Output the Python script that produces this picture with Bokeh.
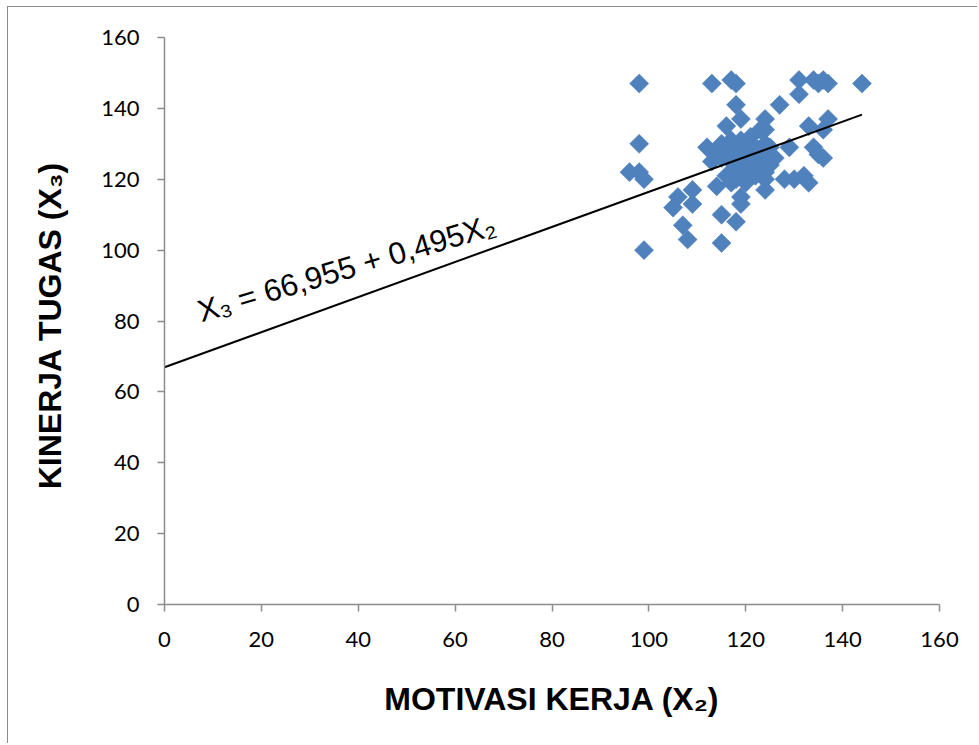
import math
from bokeh.plotting import figure
from bokeh.models import Range1d, FixedTicker, ColumnDataSource
from bokeh.core.properties import value
from bokeh.embed import file_html
from bokeh.resources import INLINE

# Motivasi kerja (X2) vs kinerja tugas (X3) per respondent
motivasi = [98, 113, 117, 118, 131, 134, 135, 136, 137, 144,
            131, 118, 127, 119, 116, 124, 133, 137, 136, 98,
            112, 124, 129, 134, 135, 136, 96, 98, 99, 132,
            133, 128, 130, 124, 124, 109, 106, 105, 109, 119,
            119, 115, 118, 107, 108, 115, 99, 114, 121, 123,
            123, 121, 124, 120, 115, 117, 119, 113, 114, 115,
            116, 117, 118, 118, 119, 120, 120, 121, 122, 122,
            123, 124, 125, 125, 116, 117, 118, 119, 120, 122,
            123, 121, 126, 117, 119, 124]
kinerja = [147, 147, 148, 147, 148, 148, 147, 148, 147, 147,
           144, 141, 141, 137, 135, 137, 135, 137, 134, 130,
           129, 134, 129, 129, 127, 126, 122, 122, 120, 121,
           119, 120, 120, 120, 117, 117, 115, 112, 113, 115,
           113, 110, 108, 107, 103, 102, 100, 118, 121, 126,
           134, 132, 130, 130, 130, 131, 131, 125, 128, 126,
           128, 125, 129, 123, 127, 128, 124, 126, 129, 123,
           128, 126, 124, 129, 121, 119, 120, 121, 119, 121,
           123, 124, 126, 122, 125, 122]

# Regression: X3 = 66,955 + 0,495 X2
intercept = 66.955
slope = 0.495
line_x = [0, 144]
line_y = [intercept + slope * v for v in line_x]

ticks = [0, 20, 40, 60, 80, 100, 120, 140, 160]
equation = "X\u2083 = 66,955 + 0,495X\u2082"

p = figure(width=970, height=737, output_backend="svg", toolbar_location=None,
           x_range=Range1d(0, 160), y_range=Range1d(0, 160),
           min_border_left=156, min_border_right=39,
           min_border_top=30, min_border_bottom=140)
p.background_fill_color = "white"
p.border_fill_color = "white"
p.outline_line_color = None
p.xgrid.visible = False
p.ygrid.visible = False
# chart-area frame: only its top and left edges fall inside the page
p.styles = {"border-top": "1.5px solid #8c8c8c",
            "border-left": "1.5px solid #8c8c8c",
            "margin-top": "6px", "margin-left": "7px"}

axis_color = "#8c8c8c"
for ax in (p.xaxis[0], p.yaxis[0]):
    ax.ticker = FixedTicker(ticks=ticks)
    ax.axis_line_color = axis_color
    ax.axis_line_width = 1.5
    ax.major_tick_line_color = axis_color
    ax.major_tick_line_width = 1.5
    ax.major_tick_out = 7
    ax.major_tick_in = 0
    ax.minor_tick_line_color = None
    ax.major_label_text_font = "Lato"
    ax.major_label_text_font_size = "22px"
    ax.major_label_text_color = "black"
    ax.axis_label_text_font = "Liberation Sans"
    ax.axis_label_text_font_style = "bold"
    ax.axis_label_text_font_size = "32px"
    ax.axis_label_text_color = "black"

p.xaxis.axis_label = "MOTIVASI KERJA (X\u2082)"
p.yaxis.axis_label = "KINERJA  TUGAS (X\u2083)"
p.xaxis.major_label_standoff = 20
p.yaxis.major_label_standoff = 18
p.xaxis.axis_label_standoff = 31
p.yaxis.axis_label_standoff = 30

src = ColumnDataSource(dict(x=motivasi, y=kinerja))
p.scatter("x", "y", source=src, marker="square", angle=math.pi / 4, size=13.5,
          fill_color="#4F81BD", line_color="#4F81BD", line_width=0.5)

p.line(line_x, line_y, line_color="black", line_width=2)

p.text(x=[7.0], y=[82.5], text=[equation], angle=math.radians(16.5),
       text_font=value("Liberation Sans"), text_font_size="31px",
       text_color="black", text_baseline="alphabetic", text_align="left")

open("out.html", "w").write(file_html(p, INLINE))
